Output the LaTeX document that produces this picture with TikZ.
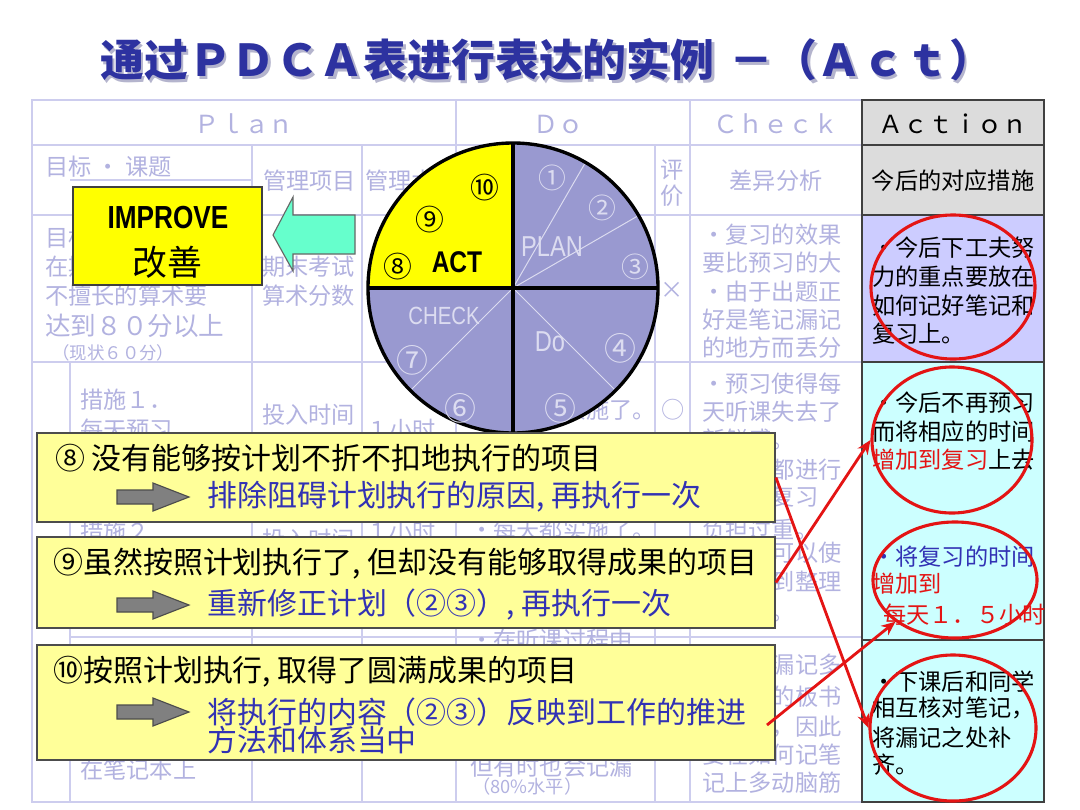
\documentclass[tikz,border=0pt]{standalone}
\usepackage{fontspec}
\setmainfont{Noto Sans CJK SC}
\newfontfamily\latinfont{Liberation Sans}
\usepackage{graphicx}
\usetikzlibrary{arrows.meta, shapes.geometric}

\definecolor{faded}{RGB}{178,178,224}
\definecolor{gridline}{RGB}{205,205,238}
\definecolor{piefill}{RGB}{153,153,208}
\definecolor{pielabel}{RGB}{220,220,240}
\definecolor{actyellow}{RGB}{255,255,0}
\definecolor{notefill}{RGB}{255,255,153}
\definecolor{hdrgray}{RGB}{220,220,220}
\definecolor{lavender}{RGB}{204,204,255}
\definecolor{lightcyan}{RGB}{204,255,255}
\definecolor{aqua}{RGB}{102,255,204}
\definecolor{textblue}{RGB}{50,50,180}
\definecolor{titleblue}{RGB}{45,50,160}
\definecolor{titleshade}{RGB}{180,180,205}
\definecolor{markred}{RGB}{228,20,20}

\newcommand\tabfont{\fontsize{16.5pt}{20pt}\selectfont}
\newcommand\hdrfont{\fontsize{17.7pt}{20pt}\selectfont}
\newcommand\notefont{\fontsize{21.3pt}{26pt}\selectfont}
\newcommand\titlefont{\fontsize{31.2pt}{36pt}\selectfont\bfseries}
\newcommand\narrow[1]{\scalebox{0.82}[1]{#1}}

\tikzset{
  tablegrid/.style={draw=gridline, line width=0.9pt},
  actline/.style={draw=black!75, line width=1.1pt},
  faint/.style={anchor=west, inner sep=0pt, text=faded, font=\tabfont},
  plain/.style={anchor=west, inner sep=0pt, text=black, font=\tabfont},
  hdr/.style={inner sep=0pt, text=faded, font=\hdrfont},
  pienum/.style={inner sep=0pt, text=pielabel, font=\fontsize{19.8pt}{20pt}\selectfont},
  pieword/.style={inner sep=0pt, text=pielabel, font=\latinfont\fontsize{20.5pt}{21pt}\selectfont},
  actnum/.style={inner sep=0pt, font=\fontsize{20.5pt}{21pt}\selectfont},
  notebox/.style={draw=black!70, fill=notefill, line width=1.2pt, inner sep=0pt, minimum width=18.45cm},
  notetext/.style={anchor=west, inner sep=0pt, font=\notefont},
  ring/.style={ellipse, draw=markred, line width=2.2pt, inner sep=0pt},
  redarrow/.style={draw=markred, line width=2pt, -{Stealth[length=10pt, width=8.5pt]}},
  blockarrow/.style={fill=gray, draw=black!70, line width=0.8pt}
}

\begin{document}
\begin{tikzpicture}[x=0.025cm, y=-0.025cm]
\fill[white] (0,0) rectangle (1080,810);
\useasboundingbox (0,0) rectangle (1080,810);

% table behind everything
\draw[tablegrid] (32,100) rectangle (862,802);
\foreach \yy in {145,215,362}
  \draw[tablegrid] (32,\yy) -- (862,\yy);
\draw[tablegrid] (70,637) -- (862,637);
\draw[tablegrid] (70,180) -- (252,180);
\draw[tablegrid] (70,362) -- (70,802);
\foreach \xx in {252,362,655}
  \draw[tablegrid] (\xx,145) -- (\xx,802);
\foreach \xx in {456,690}
  \draw[tablegrid] (\xx,100) -- (\xx,802);

% headers
\node[hdr] (hplan) at (244,124) {Ｐｌａｎ};
\node[hdr] (hdo) at (558,124) {Ｄｏ};
\node[hdr] (hcheck) at (776,124) {Ｃｈｅｃｋ};
\node[faint] (hgoal) at (45,167) {目标 · 课题};
\node[faint] (hitem) at (263,181) {管理项目};
\node[faint] (hlevel) at (365,181) {管理水平};
\node[hdr, font=\tabfont] (heval1) at (672,170) {评};
\node[hdr, font=\tabfont] (heval2) at (672,196) {价};
\node[hdr, font=\tabfont] (hdiff) at (776,181) {差异分析};

% plan column
\foreach \txt/\yy [count=\i] in {目标：/238, 在期末考试中/267, 不擅长的算术要/296}
  \node[faint] (goal-\i) at (45,\yy) {\txt};
\node[faint, font=\fontsize{18.2pt}{20pt}\selectfont] (goal-4) at (45,326) {达到８０分以上};
\node[faint, font=\fontsize{12.4pt}{14pt}\selectfont] (goal-5) at (52,353) {（现状６０分）};
\node[faint] (item-1) at (262,267) {期末考试};
\node[faint] (item-2) at (262,296) {算术分数};
\node[faint] (step-1) at (80,400) {措施１．};
\node[faint] (step-2) at (80,430) {每天预习};
\node[faint] (step-3) at (80,532) {措施２．};
\node[faint] (step-4) at (80,770) {在笔记本上};
\node[faint] (item-3) at (262,415) {投入时间};
\node[faint] (item-4) at (262,540) {投入时间};
\node[faint] (lvl-1) at (366,430) {１小时};
\node[faint] (lvl-2) at (366,532) {１小时};

% do column
\node[faint] (do-1) at (470,410) {·每天都实施了。};
\node[faint] (do-2) at (470,530) {·每天都实施了。};
\node[faint] (do-3) at (470,640) {·在听课过程中};
\node[faint] (do-4) at (470,767) {但有时也会记漏};
\node[faint, font=\fontsize{13pt}{14pt}\selectfont] (do-5) at (472,787) {（80\%水平）};

% evaluation
\node[hdr, font=\tabfont] (eval-1) at (672,290) {×};
\node[hdr, font=\tabfont] (eval-2) at (673,410) {○};

% check column
\foreach \txt/\yy [count=\i] in {・复习的效果/235, 要比预习的大/263, ・由于出题正/292, 好是笔记漏记/320, 的地方而丢分/348}
  \node[faint] (chkA-\i) at (702,\yy) {\txt};
\foreach \txt/\yy [count=\i] in {・预习使得每/384, 天听课失去了/412, 新鲜感。/440, ・每天都进行/470, 预习和复习/497, 负担过重。/530, ・复习可以使/553, 笔记得到整理/582, 的内容。/612}
  \node[faint] (chkB-\i) at (702,\yy) {\txt};
\foreach \txt/\yy [count=\i] in {・笔记漏记多/665, 对老师的板书/697, 记不全，因此/727, 要在如何记笔/755, 记上多动脑筋/783}
  \node[faint] (chkC-\i) at (702,\yy) {\txt};

% action column
\fill[hdrgray] (862,100) rectangle (1044,215);
\fill[lavender] (862,215) rectangle (1044,362);
\fill[lightcyan] (862,362) rectangle (1044,802);
\draw[actline] (862,100) rectangle (1044,802);
\foreach \yy in {145,215,362,640}
  \draw[actline] (862,\yy) -- (1044,\yy);
\node[inner sep=0pt, font=\hdrfont] (haction) at (953,124) {Ａｃｔｉｏｎ};
\node[inner sep=0pt, font=\tabfont] (hnext) at (953,181) {今后的对应措施};
\foreach \txt/\yy [count=\i] in {・今后下工夫努/248, 力的重点要放在/277, 如何记好笔记和/306, 复习上。/334}
  \node[plain] (actA-\i) at (872,\yy) {\txt};
\node[plain] (actB-1) at (872,403) {・今后不再预习};
\node[plain] (actB-2) at (872,432) {而将相应的时间};
\node[plain] (actB-3) at (872,460) {\textcolor{markred}{增加到复习}上去};
\node[plain, text=textblue] (actC-1) at (872,557) {・将复习的时间};
\node[plain, text=markred] (actC-2) at (872,584) {增加到};
\node[plain, text=markred] (actC-3) at (883,615) {每天１．５小时};
\foreach \txt/\yy [count=\i] in {・下课后和同学/682, 相互核对笔记，/708, 将漏记之处补/738, 齐。/765}
  \node[plain] (actD-\i) at (872,\yy) {\txt};

% PDCA wheel
\coordinate (pc) at (513,288);
\fill[piefill] (pc) circle[radius=145];
\fill[actyellow] (pc) -- ++(0,-145) arc[start angle=-90, end angle=-180, radius=145] -- cycle;
\foreach \a in {-60,-30,45,135}
  \draw[pielabel, line width=0.7pt] (pc) -- ++(\a:145);
\draw[line width=2.2pt] (pc) ++(0,-145) -- ++(0,290);
\draw[line width=2.2pt] (pc) ++(-145,0) -- ++(290,0);
\draw[line width=2.4pt] (pc) circle[radius=145];
\node[pienum] (p1) at (552,178) {①};
\node[pienum] (p2) at (602,208) {②};
\node[pienum] (p3) at (635,267) {③};
\node[pienum, font=\fontsize{22.7pt}{23pt}\selectfont] (p4) at (620,348) {④};
\node[pienum, font=\fontsize{22.7pt}{23pt}\selectfont] (p5) at (560,408) {⑤};
\node[pienum, font=\fontsize{22.7pt}{23pt}\selectfont] (p6) at (460,408) {⑥};
\node[pienum, font=\fontsize{22.7pt}{23pt}\selectfont] (p7) at (412,360) {⑦};
\node[pieword] (plan) at (552,247) {\narrow{PLAN}};
\node[pieword] (do) at (550,342) {\narrow{Do}};
\node[pieword, font=\latinfont\fontsize{17.7pt}{18pt}\selectfont] (check) at (444,316) {\narrow{CHECK}};
\node[inner sep=0pt, font=\latinfont\bfseries\fontsize{21.3pt}{22pt}\selectfont] (act) at (457,262) {\narrow{ACT}};
\node[actnum] (p8) at (398,267) {⑧};
\node[actnum] (p9) at (430,220) {⑨};
\node[actnum] (p10) at (485,188) {⑩};

% improve
\node[draw=black!75, fill=actyellow, line width=1pt, minimum width=4.725cm, minimum height=2.45cm] (improve) at (167.5,236) {};
\node[inner sep=0pt, font=\latinfont\bfseries\fontsize{22.7pt}{23pt}\selectfont] (imptxt) at (168,218) {\narrow{IMPROVE}};
\node[inner sep=0pt, font=\fontsize{24.8pt}{25pt}\selectfont] (impcn) at (167,262) {改善};
\draw[fill=aqua, draw=black!60, line width=0.8pt] (273,235) -- (293,197) -- (293,215) -- (355,215)
  -- (355,254) -- (293,254) -- (293,271) -- cycle;

% notes
\node[notebox, minimum height=2.225cm] (box1) at (406,477.5) {};
\node[notebox, minimum height=2.275cm] (box2) at (406,582.5) {};
\node[notebox, minimum height=2.875cm] (box3) at (406,702.5) {};
\foreach \yy in {497,605,712}
  \draw[blockarrow] (117,\yy-7) -- (153,\yy-7) -- (153,\yy-14) -- (189,\yy) -- (153,\yy+14)
    -- (153,\yy+7) -- (117,\yy+7) -- cycle;
\node[notetext] (n1a) at (55,458) {⑧ 没有能够按计划不折不扣地执行的项目};
\node[notetext, text=textblue] (n1b) at (207,497) {排除阻碍计划执行的原因, 再执行一次};
\node[notetext] (n2a) at (53,564) {⑨虽然按照计划执行了, 但却没有能够取得成果的项目};
\node[notetext, text=textblue] (n2b) at (207,605) {重新修正计划（②③）, 再执行一次};
\node[notetext] (n3a) at (53,672) {⑩按照计划执行, 取得了圆满成果的项目};
\node[notetext, text=textblue] (n3b) at (207,712) {将执行的内容（②③）反映到工作的推进};
\node[notetext, text=textblue] (n3c) at (207,740) {方法和体系当中};

% red marks
\node[ring, minimum width=4.1cm, minimum height=3.6cm] (c1) at (953,287) {};
\node[ring, minimum width=4.0cm, minimum height=3.65cm] (c2) at (952,440) {};
\node[ring, minimum width=4.1cm, minimum height=2.9cm] (c3) at (955,580) {};
\node[ring, minimum width=4.15cm, minimum height=3.65cm] (c4) at (953,728) {};
\coordinate (s3) at (767,725);
\draw[redarrow] (box1.east) -- (c4.west);
\draw[redarrow] (box2.east) -- (c2.west);
\draw[redarrow] (s3) -- (c3.215);

% title
\node[anchor=west, inner sep=0pt, text=titleshade, font=\titlefont] (tshadow) at (102.5,62.5)
  {通过ＰＤＣＡ表进行表达的实例\hspace{0.35em}－（Ａｃｔ）};
\node[anchor=west, inner sep=0pt, text=titleblue, font=\titlefont] (title) at (100,60)
  {通过ＰＤＣＡ表进行表达的实例\hspace{0.35em}－（Ａｃｔ）};
\end{tikzpicture}
\end{document}
